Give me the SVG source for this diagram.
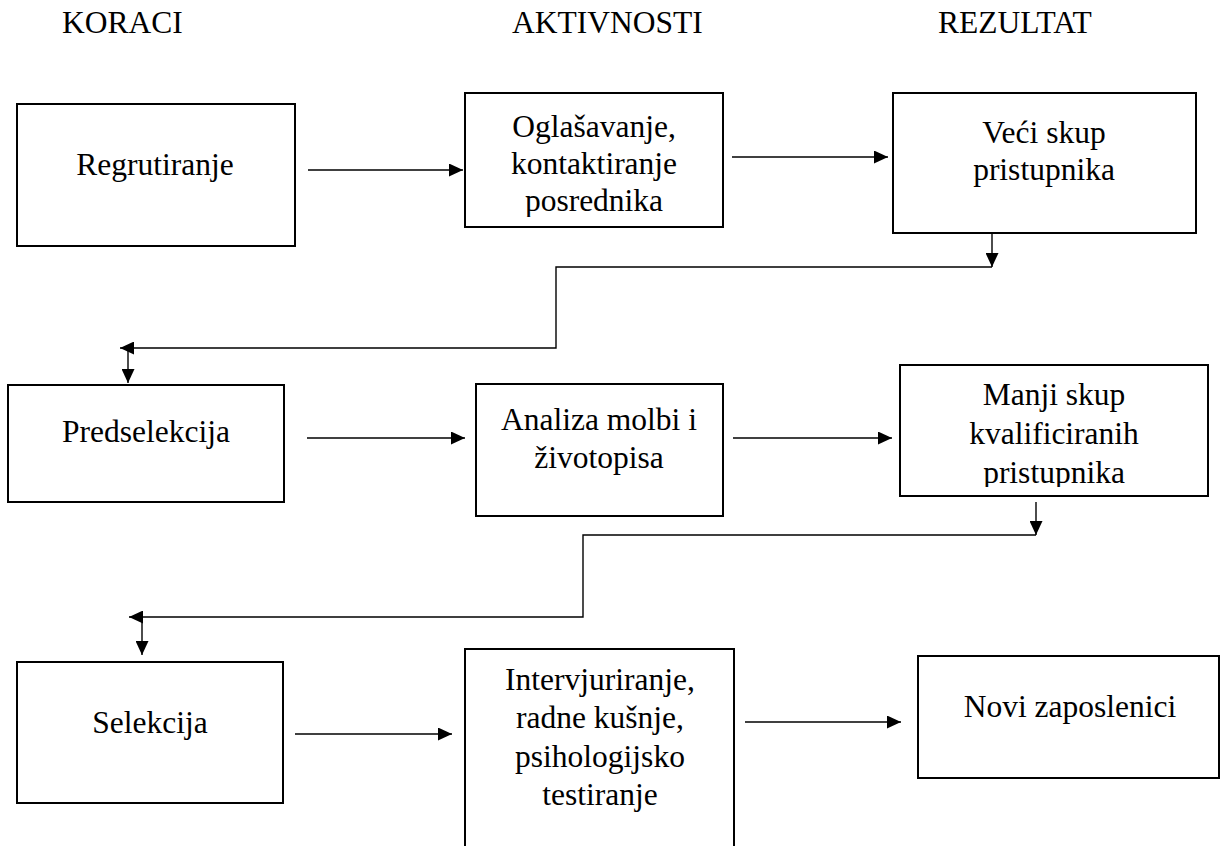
<svg xmlns="http://www.w3.org/2000/svg" width="1220" height="846" viewBox="0 0 1220 846">
<style>
text{font-family:'Liberation Serif','Tinos','Times New Roman','DejaVu Serif',serif;font-size:31.5px;fill:#000;text-anchor:middle}
.hdr{text-anchor:start}
.box{fill:#fff;stroke:#000;stroke-width:2}
.ln{fill:none;stroke:#000;stroke-width:1.4}
.arr{marker-end:url(#ah)}
</style>
<defs>
<marker id="ah" markerUnits="userSpaceOnUse" markerWidth="14" markerHeight="13" refX="14" refY="6.5" orient="auto">
<path d="M0,0 L14,6.5 L0,13 Z" fill="#000"/>
</marker>
<clipPath id="c2"><rect x="466" y="94" width="256" height="123"/></clipPath>
<clipPath id="c6"><rect x="901" y="366" width="306" height="121"/></clipPath>
</defs>
<rect width="1220" height="846" fill="#fff"/>
<g id="headers" font-family="Liberation Serif, serif">
<text class="hdr" x="62" y="33">KORACI</text>
<text class="hdr" x="512" y="33">AKTIVNOSTI</text>
<text class="hdr" x="938" y="33">REZULTAT</text>
</g>
<g id="n-regrutiranje">
<rect class="box" x="17" y="104" width="278" height="142"/>
<text x="155" y="175">Regrutiranje</text>
</g>
<g id="n-oglasavanje">
<rect class="box" x="465" y="93" width="258" height="134"/>
<g clip-path="url(#c2)">
<text x="594" y="137">Oglašavanje,</text>
<text x="594" y="174">kontaktiranje</text>
<text x="594" y="211">posrednika</text>
</g>
</g>
<g id="n-veci">
<rect class="box" x="893" y="93" width="303" height="140"/>
<text x="1044" y="143">Veći skup</text>
<text x="1044" y="180">pristupnika</text>
</g>
<g id="n-predselekcija">
<rect class="box" x="8" y="385" width="276" height="117"/>
<text x="146" y="442">Predselekcija</text>
</g>
<g id="n-analiza">
<rect class="box" x="476" y="384" width="247" height="132"/>
<text x="599" y="430">Analiza molbi i</text>
<text x="599" y="468">životopisa</text>
</g>
<g id="n-manji">
<rect class="box" x="900" y="365" width="308" height="131"/>
<g clip-path="url(#c6)">
<text x="1054" y="405">Manji skup</text>
<text x="1054" y="444">kvalificiranih</text>
<text x="1054" y="483">pristupnika</text>
</g>
</g>
<g id="n-selekcija">
<rect class="box" x="17" y="662" width="266" height="141"/>
<text x="150" y="733">Selekcija</text>
</g>
<g id="n-intervjuriranje">
<rect class="box" x="465" y="649" width="269" height="220"/>
<text x="600" y="690">Intervjuriranje,</text>
<text x="600" y="728">radne kušnje,</text>
<text x="600" y="767">psihologijsko</text>
<text x="600" y="805">testiranje</text>
</g>
<g id="n-novi">
<rect class="box" x="918" y="656" width="301" height="122"/>
<text x="1070" y="717">Novi zaposlenici</text>
</g>
<g id="connectors">
<line class="ln arr" x1="308" y1="170" x2="463" y2="170"/>
<line class="ln arr" x1="732" y1="157" x2="888" y2="157"/>
<line class="ln arr" x1="992" y1="233" x2="992" y2="267"/>
<polyline class="ln arr" points="992,267 556,267 556,348 120,348"/>
<line class="ln arr" x1="128" y1="348" x2="128" y2="383"/>
<line class="ln arr" x1="307" y1="438" x2="465" y2="438"/>
<line class="ln arr" x1="733" y1="438" x2="892" y2="438"/>
<line class="ln arr" x1="1036" y1="502" x2="1036" y2="535"/>
<polyline class="ln arr" points="1036,535 583,535 583,617 129,617"/>
<line class="ln arr" x1="142" y1="617" x2="142" y2="655"/>
<line class="ln arr" x1="295" y1="734" x2="452" y2="734"/>
<line class="ln arr" x1="745" y1="722" x2="901" y2="722"/>
</g>
</svg>
